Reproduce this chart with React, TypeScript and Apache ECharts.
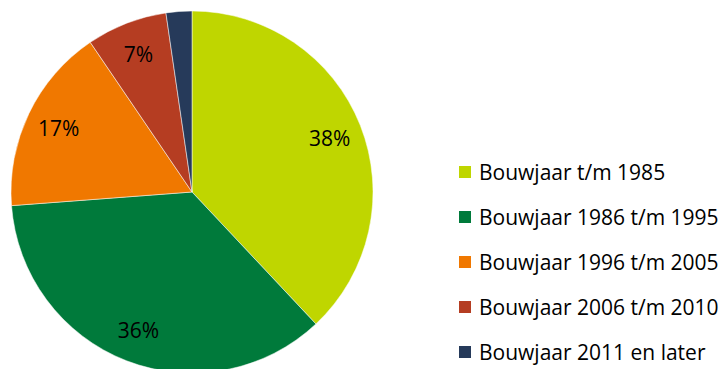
import React, { useEffect, useRef } from "react";
import * as echarts from "echarts";

const categories = [
  "Bouwjaar t/m 1985",
  "Bouwjaar 1986 t/m 1995",
  "Bouwjaar 1996 t/m 2005",
  "Bouwjaar 2006 t/m 2010",
  "Bouwjaar 2011 en later",
];
const values = [38.0, 35.8, 16.7, 7.2, 2.3];
const shownLabels = ["38%", "36%", "17%", "7%", ""];
const colors = ["#BFD600", "#007A3B", "#F07800", "#B53D22", "#263A5A"];

export default function App() {
  const ref = useRef<HTMLDivElement>(null);
  useEffect(() => {
    if (!ref.current) return;
    const chart = echarts.init(ref.current, undefined, { renderer: "svg" });
    const data = categories.map((name, i) => ({ name, value: values[i] }));
    chart.setOption({
      animation: false,
      color: colors,
      legend: {
        orient: "vertical",
        left: 457,
        top: 161,
        height: 208,
        padding: 0,
        itemWidth: 14,
        itemHeight: 14,
        itemGap: 23,
        icon: "rect",
        data: categories,
        textStyle: { fontFamily: "Open Sans", fontSize: 21, color: "#000", lineHeight: 22, padding: [0, 0, 0, 2] },
      },
      series: [
        {
          type: "pie",
          center: [192, 192],
          radius: [0, 181],
          startAngle: 90,
          clockwise: true,
          data,
          label: { show: false },
          labelLine: { show: false },
          itemStyle: { borderColor: "#ffffff", borderWidth: 0.5 },
          silent: true,
        },
        {
          type: "pie",
          center: [192, 192],
          radius: [110, 180],
          startAngle: 90,
          clockwise: true,
          data: data.map((d, i) => ({
            ...d,
            itemStyle: { color: "rgba(0,0,0,0)" },
            label: { show: shownLabels[i] !== "" },
          })),
          legendHoverLink: false,
          silent: true,
          label: {
            position: "inside",
            formatter: (p: any) => shownLabels[p.dataIndex],
            fontFamily: "Open Sans",
            fontSize: 21,
            color: "#000",
          },
          labelLine: { show: false },
        },
      ],
    });
    return () => chart.dispose();
  }, []);
  return (
    <div
      ref={ref}
      style={{ position: "fixed", left: 0, top: 0, width: 719, height: 369, background: "#fff" }}
    />
  );
}
